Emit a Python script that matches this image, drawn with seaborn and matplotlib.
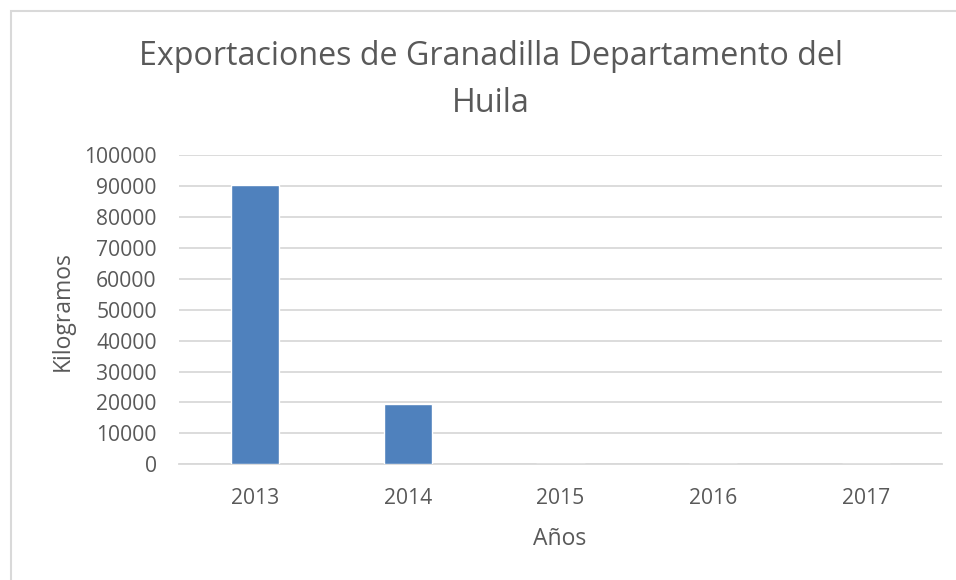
import matplotlib
matplotlib.use("Agg")
import matplotlib.pyplot as plt
import seaborn as sns
import pandas as pd
from matplotlib.patches import Rectangle

years = ["2013", "2014", "2015", "2016", "2017"]
kilogramos = [90200, 19600, 0, 0, 0]
title = "Exportaciones de Granadilla Departamento del\nHuila"
x_label = "Años"
y_label = "Kilogramos"

df = pd.DataFrame({"Año": years, "Kg": kilogramos})

sns.set_theme(style="white")
plt.rcParams["font.family"] = ["Open Sans", "DejaVu Sans"]
text_color = "#595959"
grid_color = "#D9D9D9"

fig = plt.figure(figsize=(9.56, 5.8), dpi=100)
ax = fig.add_axes([179 / 956, 1 - 464.3 / 580, (942 - 179) / 956, (464.3 - 155) / 580])

sns.barplot(data=df, x="Año", y="Kg", color="#4F81BD", saturation=1, width=0.315, ax=ax, zorder=3)

ax.set_ylim(0, 100000)
ax.set_yticks(range(0, 100001, 10000))
ax.set_yticklabels([str(v) for v in range(0, 100001, 10000)])
ax.yaxis.grid(True, color=grid_color, linewidth=1.3, zorder=0)
ax.set_axisbelow(True)
for s in ["top", "right", "left"]:
    ax.spines[s].set_visible(False)
ax.spines["bottom"].set_color(grid_color)
ax.spines["bottom"].set_linewidth(1.3)
ax.tick_params(axis="both", length=0, labelsize=15.2, colors=text_color)
ax.tick_params(axis="x", pad=17)
ax.tick_params(axis="y", pad=16)

ax.set_xlabel(x_label, fontsize=16.5, color=text_color)
ax.xaxis.label.set_va("center")
ax.xaxis.set_label_coords((560 - 179) / 763, (464.3 - 539) / 309.3)
ax.set_ylabel(y_label, fontsize=16.5, color=text_color)
ax.yaxis.label.set_va("center")
ax.yaxis.label.set_ha("center")
ax.yaxis.set_label_coords((63 - 179) / 763, (464.3 - 311) / 309.3)

fig.text(491 / 956, 1 - 80 / 580, title, ha="center", va="center", fontsize=23.2,
         color=text_color, linespacing=1.57)

fig.patches.append(Rectangle((10.5 / 956, -0.05), 1.1, 1 - 10.5 / 580 + 0.05,
                             transform=fig.transFigure, fill=False,
                             edgecolor=grid_color, linewidth=1.5))

fig.savefig("out.png", dpi=100)
